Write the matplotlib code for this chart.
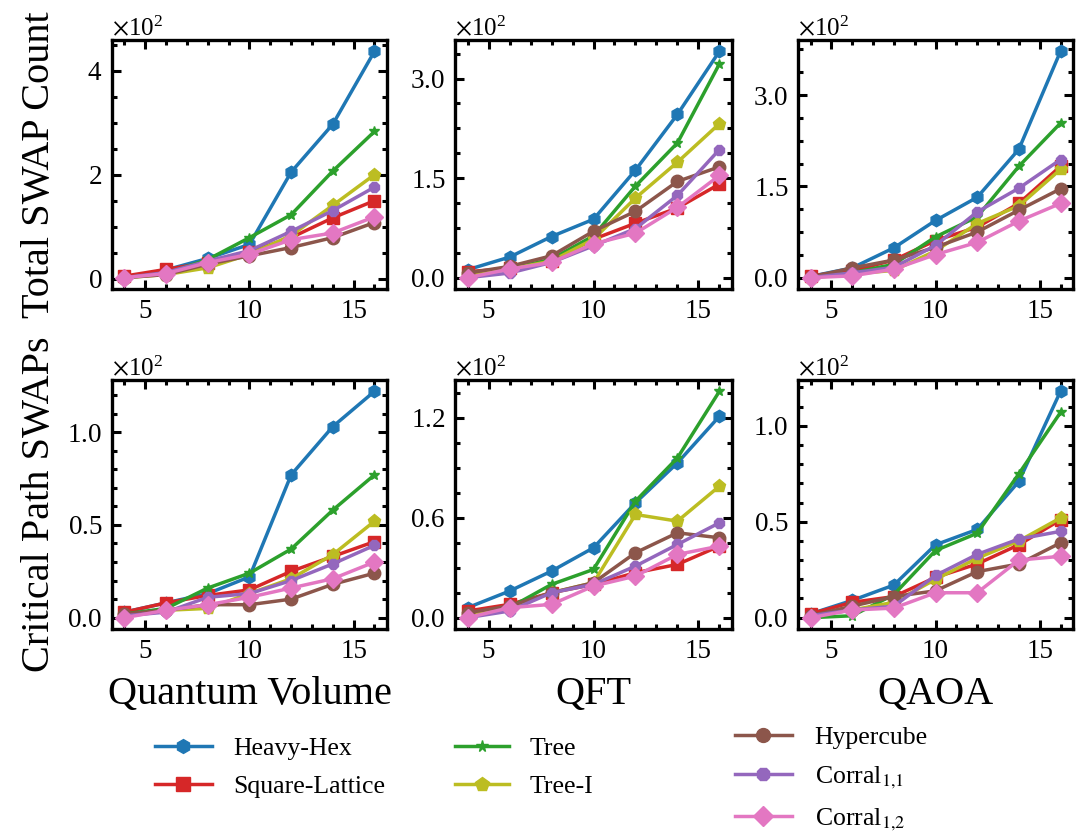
import matplotlib
matplotlib.use("Agg")
import matplotlib.pyplot as plt
from matplotlib.ticker import MultipleLocator, AutoMinorLocator, ScalarFormatter
from matplotlib.lines import Line2D

plt.rcParams['font.family'] = ['Liberation Serif', 'DejaVu Serif']
plt.rcParams['mathtext.fontset'] = 'stix'

x = [4, 6, 8, 10, 12, 14, 16]

names = ["Heavy-Hex", "Square-Lattice", "Tree", "Tree-I", "Hypercube",
         r"Corral$_{1{,}1}$", r"Corral$_{1{,}2}$"]
colors = ["#1f77b4", "#d62728", "#2ca02c", "#bcbd22", "#8c564b", "#9467bd", "#e377c2"]
markers = ["h", "s", "*", "p", "o", "8", "D"]
msizes = [9, 8.5, 7.5, 9.5, 9, 8.5, 9]

# Total SWAP count
qv_total = {
    "Heavy-Hex":      [2, 17, 39, 66, 205, 297, 437],
    "Square-Lattice": [5, 18, 31, 52, 79, 117, 150],
    "Tree":           [2, 10, 37, 79, 123, 207, 283],
    "Tree-I":         [2, 8, 21, 47, 83, 141, 200],
    "Hypercube":      [2, 8, 28, 44, 60, 79, 108],
    "Corral11":       [2, 12, 34, 54, 91, 131, 176],
    "Corral12":       [2, 10, 31, 47, 75, 88, 119],
}
qft_total = {
    "Heavy-Hex":      [12, 31, 62, 88, 162, 246, 341],
    "Square-Lattice": [9, 14, 25, 58, 82, 105, 141],
    "Tree":           [3, 13, 28, 63, 138, 203, 322],
    "Tree-I":         [3, 13, 25, 58, 120, 174, 232],
    "Hypercube":      [7, 17, 33, 70, 100, 145, 167],
    "Corral11":       [0, 7, 23, 48, 74, 124, 193],
    "Corral12":       [0, 13, 23, 51, 67, 106, 154],
}
qaoa_total = {
    "Heavy-Hex":      [2, 16, 49, 94, 132, 211, 372],
    "Square-Lattice": [3, 11, 29, 61, 83, 122, 183],
    "Tree":           [0, 8, 22, 67, 100, 183, 254],
    "Tree-I":         [0, 6, 12, 44, 89, 118, 178],
    "Hypercube":      [1, 16, 29, 50, 75, 111, 146],
    "Corral11":       [0, 8, 17, 53, 108, 147, 194],
    "Corral12":       [0, 3, 14, 38, 58, 93, 122],
}
# Critical path SWAPs
qv_crit = {
    "Heavy-Hex":      [3, 8, 13, 22, 77, 103, 122],
    "Square-Lattice": [3, 8, 12, 15, 25, 33, 41],
    "Tree":           [2, 5, 16, 24, 37, 58, 77],
    "Tree-I":         [1, 4, 5, 13, 21, 34, 52],
    "Hypercube":      [2, 4, 7, 7, 10, 18, 24],
    "Corral11":       [1, 3, 11, 13, 20, 29, 39],
    "Corral12":       [0, 4, 7, 11, 16, 21, 30],
}
qft_crit = {
    "Heavy-Hex":      [6, 16, 28, 42, 69, 93, 121],
    "Square-Lattice": [4, 8, 15, 20, 27, 32, 43],
    "Tree":           [1, 6, 20, 29, 70, 96, 136],
    "Tree-I":         [1, 6, 15, 21, 62, 58, 79],
    "Hypercube":      [3, 7, 15, 21, 39, 51, 48],
    "Corral11":       [0, 4, 15, 20, 31, 44, 57],
    "Corral12":       [0, 6, 8, 19, 25, 38, 43],
}
qaoa_crit = {
    "Heavy-Hex":      [2, 9, 17, 38, 46, 71, 118],
    "Square-Lattice": [2, 8, 11, 21, 28, 38, 51],
    "Tree":           [0, 1, 12, 35, 44, 75, 107],
    "Tree-I":         [1, 4, 8, 20, 31, 40, 52],
    "Hypercube":      [1, 6, 11, 14, 24, 28, 39],
    "Corral11":       [1, 4, 6, 22, 33, 41, 45],
    "Corral12":       [0, 4, 5, 13, 13, 30, 32],
}
keys = ["Heavy-Hex", "Square-Lattice", "Tree", "Tree-I", "Hypercube", "Corral11", "Corral12"]

col_titles = ["Quantum Volume", "QFT", "QAOA"]
row_labels = ["Total SWAP Count", "Critical Path SWAPs"]
panels = [[qv_total, qft_total, qaoa_total], [qv_crit, qft_crit, qaoa_crit]]
ysteps = [[200, 150, 150], [50, 60, 50]]

fig = plt.figure(figsize=(10.77, 8.36), dpi=100)
W, H = 1077, 836
lefts = [112, 455, 798]
widths = [275, 277, 275]
tops = [40, 380]
hgt = 249

for r in range(2):
    for c in range(3):
        ax = fig.add_axes([lefts[c] / W, 1 - (tops[r] + hgt) / H, widths[c] / W, hgt / H])
        data = panels[r][c]
        for k, name, col, m, ms in zip(keys, names, colors, markers, msizes):
            ax.plot(x, data[k], color=col, marker=m, markersize=ms, linewidth=2.5, label=name)
        ax.xaxis.set_major_locator(MultipleLocator(5))
        ax.xaxis.set_minor_locator(MultipleLocator(1))
        ax.yaxis.set_major_locator(MultipleLocator(ysteps[r][c]))
        ax.yaxis.set_minor_locator(AutoMinorLocator())
        fmt = ScalarFormatter(useMathText=True)
        fmt.set_powerlimits((0, 0))
        ax.yaxis.set_major_formatter(fmt)
        ax.yaxis.get_offset_text().set_fontsize(18)
        ax.tick_params(which='both', direction='in', top=True, right=True, width=2.2)
        ax.tick_params(which='major', length=6.5, labelsize=19.5, pad=7)
        ax.tick_params(which='minor', length=3.8)
        for s in ax.spines.values():
            s.set_linewidth(2.4)
        if c == 0:
            fig.text(40 / W, 1 - (tops[r] + hgt / 2) / H, row_labels[r], rotation=90,
                     ha='center', va='center', fontsize=29)
        if r == 1:
            fig.text((lefts[c] + widths[c] / 2) / W, 1 - 695 / H, col_titles[c],
                     ha='center', va='center', fontsize=29)

def make_handles(idx):
    return [Line2D([], [], color=colors[i], marker=markers[i], markersize=msizes[i] + 1,
                   linewidth=2.5) for i in idx]

leg_specs = [([0, 1], 155, 737, 2.2, 0.85), ([2, 3], 455, 737, 2.1, 0.8),
             ([4, 5, 6], 735, 726, 2.2, 0.9)]
for idx, lx, ly, hl, htp in leg_specs:
    fig.legend(make_handles(idx), [names[i] for i in idx], loc='upper left',
               bbox_to_anchor=(lx / W, 1 - ly / H), frameon=False, fontsize=18.5,
               handlelength=hl, handletextpad=htp, labelspacing=0.6,
               borderpad=0, borderaxespad=0)

fig.savefig("out.png", dpi=100)
